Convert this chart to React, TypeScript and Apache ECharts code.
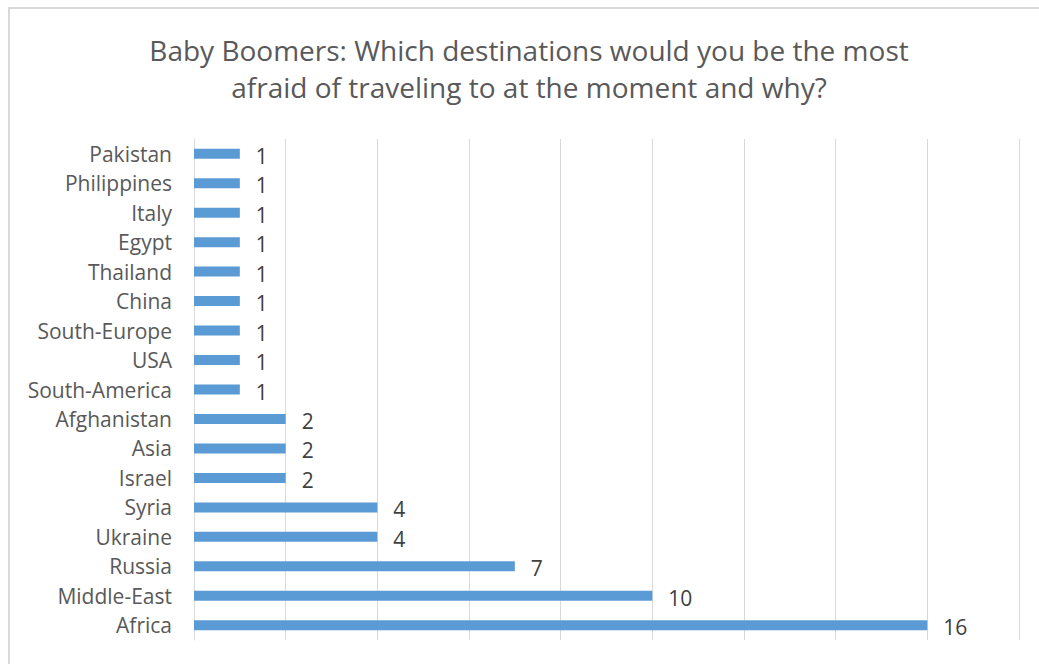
import React, { useEffect, useRef } from "react";
import * as echarts from "echarts";

const categories = [
  "Africa", "Middle-East", "Russia", "Ukraine", "Syria", "Israel", "Asia", "Afghanistan",
  "South-America", "USA", "South-Europe", "China", "Thailand", "Egypt", "Italy", "Philippines", "Pakistan",
];
const values = [16, 10, 7, 4, 4, 2, 2, 2, 1, 1, 1, 1, 1, 1, 1, 1, 1];
const titleText = "Baby Boomers: Which destinations would you be the most\nafraid of traveling to at the moment and why?";

export default function App() {
  const ref = useRef<HTMLDivElement>(null);
  useEffect(() => {
    const chart = echarts.init(ref.current!, null, { renderer: "svg" });
    const font = "'Open Sans', sans-serif";
    chart.setOption({
      animation: false,
      backgroundColor: "#ffffff",
      title: {
        text: titleText,
        left: 524,
        textAlign: "center",
        top: 26,
        textStyle: { fontFamily: font, fontSize: 28, fontWeight: "normal", color: "#595959", lineHeight: 37 },
      },
      graphic: [
        {
          type: "rect",
          shape: { x: 9, y: 8, width: 1060, height: 680 },
          style: { fill: "none", stroke: "#d9d9d9", lineWidth: 2 },
          silent: true,
        },
      ],
      grid: { left: 194, right: 20, top: 139, bottom: 24, containLabel: false },
      xAxis: {
        type: "value",
        min: 0,
        max: 18,
        interval: 2,
        axisLabel: { show: false },
        axisLine: { show: false },
        axisTick: { show: false },
        splitLine: { show: true, lineStyle: { color: "#d9d9d9", width: 1 } },
      },
      yAxis: {
        type: "category",
        data: categories,
        axisLine: { show: true, lineStyle: { color: "#d9d9d9", width: 1 } },
        axisTick: { show: false },
        axisLabel: { fontFamily: font, fontSize: 21, color: "#595959", margin: 22 },
      },
      series: [
        {
          type: "bar",
          data: values,
          barWidth: 10,
          itemStyle: { color: "#5b9bd5" },
          label: {
            show: true,
            position: "right",
            distance: 16,
            fontFamily: font,
            fontSize: 21,
            color: "#404040",
            offset: [0, 2],
          },
        },
      ],
    });
    return () => chart.dispose();
  }, []);
  return (
    <div
      ref={ref}
      style={{ position: "fixed", left: 0, top: 0, width: 1039, height: 664, background: "#fff" }}
    />
  );
}
